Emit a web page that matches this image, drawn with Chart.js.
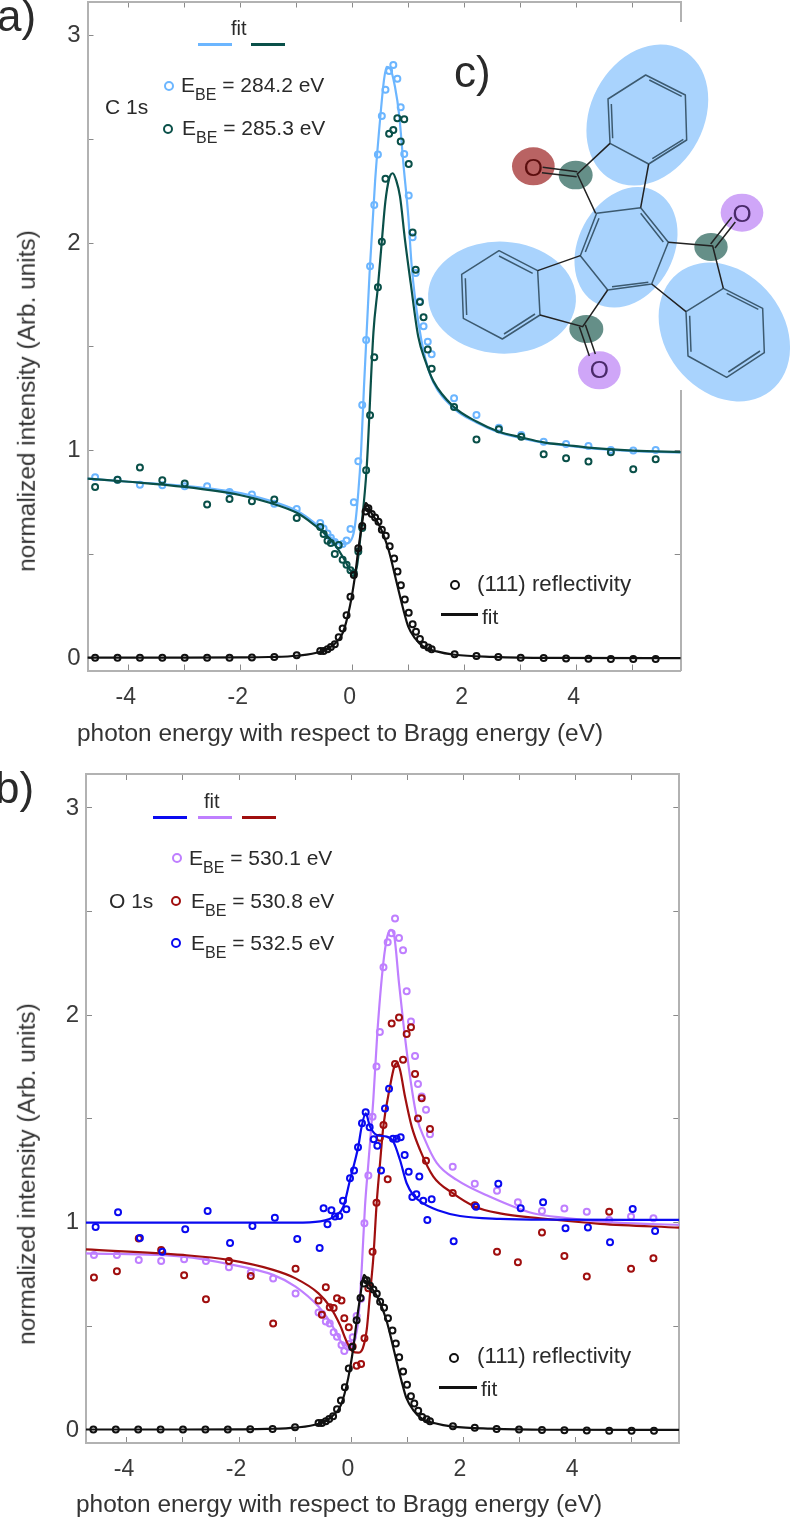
<!DOCTYPE html>
<html>
<head>
<meta charset="utf-8">
<title>Normalized intensity vs photon energy</title>
<script src="https://cdn.jsdelivr.net/npm/chart.js@4/dist/chart.umd.min.js"></script>
<style>
    html, body { margin: 0; padding: 0; background: #fff; }
    #page { position: relative; width: 792px; height: 1519px; overflow: hidden; font-family: "Liberation Sans", Arial, sans-serif; color: #2a2a2a; }
    #page canvas { position: absolute; left: 0; }
    .t { position: absolute; white-space: nowrap; line-height: 1; }
    .sub { font-size: 16px; position: relative; top: 8px; }
    .ax { position: absolute; white-space: nowrap; line-height: 1; font-size: 24.4px; color: #333; }
    .rot { transform: translate(-50%, -50%) rotate(-90deg); }
    .dash { position: absolute; height: 3px; }
    .dot { position: absolute; box-sizing: border-box; width: 10px; height: 10px; border-radius: 50%; border: 2.5px solid; }
    #inset { position: absolute; left: 400px; top: 30px; width: 392px; height: 400px; }
</style>
</head>
<body>
<div id="page">
    <canvas id="chartC" width="792" height="770" style="top:0;width:792px;height:770px"></canvas>
    <canvas id="chartO" width="792" height="759" style="top:760px;width:792px;height:759px"></canvas>

    <!-- c) molecule, its white box also hides the right axis line -->
    <svg style="position:absolute;left:674px;top:22px" width="118" height="368"><rect width="118" height="368" fill="#fff"/></svg>
    <svg id="inset" viewBox="0 0 1176 1200">
        <g fill="#a9d3fd">
            <ellipse cx="742" cy="255" rx="170" ry="222" transform="rotate(28 742 255)"/>
            <ellipse cx="678" cy="652" rx="143" ry="190" transform="rotate(28 678 652)"/>
            <ellipse cx="306" cy="803" rx="222" ry="168" transform="rotate(3 306 803)"/>
            <ellipse cx="973" cy="906" rx="178" ry="225" transform="rotate(-38 973 906)"/>
        </g>
        <g fill="#658f88">
            <ellipse cx="527" cy="435" rx="51" ry="43"/>
            <ellipse cx="933" cy="651" rx="50" ry="42"/>
            <ellipse cx="559" cy="897" rx="51" ry="42"/>
        </g>
        <ellipse cx="400" cy="409" rx="64" ry="57" fill="#b96363"/>
        <ellipse cx="1026" cy="548" rx="64" ry="57" fill="#cfa6f8"/>
        <ellipse cx="598" cy="1021" rx="64" ry="57" fill="#cfa6f8"/>
        <g fill="none" stroke="#3c5a70" stroke-width="4.5" stroke-linejoin="round">
            <polygon points="737,135 856,195 860,330 746,402 630,340 624,207"/>
            <polygon points="590,550 722,533 805,637 755,762 623,780 541,677"/>
            <polygon points="297,662 413,722 420,855 307,927 190,865 185,733"/>
            <polygon points="970,775 1088,835 1093,968 980,1042 864,978 858,845"/>
            <path d="M638,325 L634,222 M748,150 L845,199 M850,328 L757,386"/>
            <path d="M597,565 L556,666 M722,550 L790,636 M636,770 L745,757"/>
            <path d="M297,678 L398,730 M405,852 L312,912 M200,855 L196,745"/>
            <path d="M980,790 L1075,838 M1080,963 L985,1026 M873,965 L869,857"/>
        </g>
        <g fill="none" stroke="#222" stroke-width="4.5">
            <path d="M630,340 L532,432 L587,550 M746,402 L722,533"/>
            <path d="M805,637 L938,648 L970,775 M755,762 L858,845"/>
            <path d="M541,677 L413,722 M420,855 L548,890 L623,780"/>
            <path d="M532,425 L428,412 M530,440 L426,428"/>
            <path d="M932,642 L995,562 M945,654 L1006,576"/>
            <path d="M538,890 L568,978 M556,884 L586,972"/>
        </g>
        <g font-family="Liberation Sans, Arial, sans-serif" font-size="74" text-anchor="middle">
            <text x="400" y="437" fill="#5c0e0e">O</text>
            <text x="1026" y="576" fill="#4a2a6a">O</text>
            <text x="598" y="1045" fill="#4a2a6a">O</text>
        </g>
    </svg>

    <!-- panel letters -->
    <div class="t" style="left:-3px;top:-6px;font-size:44px">a)</div>
    <div class="t" style="left:-5px;top:766px;font-size:44px">b)</div>
    <div class="t" style="left:454px;top:50px;font-size:44px">c)</div>

    <!-- legend, panel a -->
    <div class="t" style="left:231px;top:18px;font-size:20px">fit</div>
    <div class="dash" style="left:198px;top:43px;width:34px;background:#6cb6ff"></div>
    <div class="dash" style="left:251px;top:43px;width:34px;background:#0a5049"></div>
    <div class="dot" style="left:164px;top:81px;border-color:#6cb6ff"></div>
    <div class="dot" style="left:163px;top:124px;border-color:#0a5049"></div>
    <div class="t" style="left:181px;top:74px;font-size:21px">E<span class="sub">BE</span> = 284.2 eV</div>
    <div class="t" style="left:182px;top:117px;font-size:21px">E<span class="sub">BE</span> = 285.3 eV</div>
    <div class="t" style="left:105px;top:96px;font-size:21px">C 1s</div>
    <div class="dot" style="left:450px;top:580px;border-color:#111"></div>
    <div class="t" style="left:477px;top:573px;font-size:22.3px">(111) reflectivity</div>
    <div class="dash" style="left:441px;top:613px;width:37px;background:#111"></div>
    <div class="t" style="left:482px;top:606px;font-size:21px">fit</div>

    <!-- legend, panel b -->
    <div class="t" style="left:204px;top:791px;font-size:20px">fit</div>
    <div class="dash" style="left:153px;top:816px;width:34px;background:#0a0af0"></div>
    <div class="dash" style="left:198px;top:816px;width:34px;background:#bf7fff"></div>
    <div class="dash" style="left:242px;top:816px;width:34px;background:#a00f0f"></div>
    <div class="dot" style="left:172px;top:853px;border-color:#bf7fff"></div>
    <div class="dot" style="left:171px;top:896px;border-color:#a00f0f"></div>
    <div class="dot" style="left:171px;top:938px;border-color:#0a0af0"></div>
    <div class="t" style="left:189px;top:847px;font-size:21px">E<span class="sub">BE</span> = 530.1 eV</div>
    <div class="t" style="left:191px;top:890px;font-size:21px">E<span class="sub">BE</span> = 530.8 eV</div>
    <div class="t" style="left:191px;top:932px;font-size:21px">E<span class="sub">BE</span> = 532.5 eV</div>
    <div class="t" style="left:109px;top:890px;font-size:21px">O 1s</div>
    <div class="dot" style="left:449px;top:1353px;border-color:#111"></div>
    <div class="t" style="left:477px;top:1345px;font-size:22.3px">(111) reflectivity</div>
    <div class="dash" style="left:439px;top:1386px;width:38px;background:#111"></div>
    <div class="t" style="left:481px;top:1378px;font-size:21px">fit</div>

    <!-- axis titles -->
    <div class="ax" style="left:77px;top:721px">photon energy with respect to Bragg energy (eV)</div>
    <div class="ax" style="left:76px;top:1492px">photon energy with respect to Bragg energy (eV)</div>
    <div class="ax rot" style="left:27px;top:401px">normalized intensity (Arb. units)</div>
    <div class="ax rot" style="left:27px;top:1174px">normalized intensity (Arb. units)</div>
</div>

<script>
// Axis ticks, shared by both panels
const xTicks = [-4, -3, -2, -1, 0, 1, 2, 3, 4, 5];
const xLabelled = [-4, -2, 0, 2, 4];
const yTicks = [0, 0.5, 1, 1.5, 2, 2.5, 3];
const yLabelled = [0, 1, 2, 3];

// (111) reflectivity, same scan in both panels
const reflE = [-4.6, -4.2, -3.8, -3.4, -3.0, -2.6, -2.2, -1.8, -1.4, -1.0,
    -0.58, -0.52, -0.45, -0.39, -0.32, -0.25, -0.18, -0.11, -0.04, 0.02, 0.10, 0.17, 0.23, 0.28, 0.34, 0.40,
    0.46, 0.52, 0.59, 0.66, 0.74, 0.80, 0.86, 0.93, 1.0, 1.07, 1.13, 1.2, 1.27, 1.35, 1.41,
    1.82, 2.21, 2.6, 3.0, 3.41, 3.81, 4.21, 4.61, 5.01, 5.41];
const reflI = [0.002, 0.002, 0.002, 0.002, 0.002, 0.002, 0.002, 0.003, 0.005, 0.013,
    0.034, 0.034, 0.042, 0.053, 0.066, 0.10, 0.142, 0.206, 0.296, 0.40, 0.529, 0.637, 0.706, 0.722, 0.695, 0.678,
    0.657, 0.618, 0.589, 0.539, 0.48, 0.417, 0.351, 0.282, 0.218, 0.163, 0.127, 0.092, 0.063, 0.051, 0.042,
    0.018, 0.010, 0.005, 0.002, 0, -0.002, -0.003, -0.004, -0.004, -0.004];
const reflFitE = [-4.74, -3, -2, -1.5, -1, -0.58, -0.345, -0.18, -0.05, 0.04, 0.10, 0.16, 0.232, 0.34, 0.49, 0.64, 0.73, 0.815, 0.905, 0.99, 1.11, 1.26, 1.5, 1.82, 2.5, 3.5, 5.86];
const reflFitI = [0.002, 0.002, 0.003, 0.005, 0.011, 0.03, 0.064, 0.12, 0.25, 0.394, 0.522, 0.635, 0.748, 0.696, 0.632, 0.522, 0.426, 0.33, 0.233, 0.153, 0.096, 0.056, 0.032, 0.016, 0.006, 0.001, 0];

// C 1s, shared energy scan
const scanC = [-4.6, -4.2, -3.8, -3.4, -3.0, -2.6, -2.2, -1.8, -1.4, -1.0,
    -0.58, -0.52, -0.45, -0.39, -0.32, -0.25, -0.18, -0.11, -0.04, 0.02, 0.10, 0.17,
    0.24, 0.31, 0.385, 0.45, 0.52, 0.585, 0.65, 0.725, 0.797, 0.857, 0.92, 1.0, 1.07, 1.125, 1.2, 1.265, 1.34, 1.41,
    1.81, 2.21, 2.61, 3.01, 3.41, 3.81, 4.21, 4.61, 5.01, 5.41];
const c284 = [0.871, 0.86, 0.836, 0.833, 0.828, 0.828, 0.80, 0.788, 0.744, 0.719,
    0.651, 0.625, 0.60, 0.58, 0.56, 0.542, 0.55, 0.567, 0.622, 0.751, 0.949, 1.22,
    1.533, 1.889, 2.184, 2.428, 2.613, 2.74, 2.83, 2.859, 2.793, 2.655, 2.43, 2.23, 2.028, 1.856, 1.72, 1.60, 1.525, 1.464,
    1.252, 1.172, 1.11, 1.075, 1.043, 1.032, 1.022, 1.003, 1.0, 1.003];
const c285 = [0.825, 0.86, 0.918, 0.857, 0.841, 0.74, 0.767, 0.756, 0.764, 0.675,
    0.632, 0.598, 0.566, 0.555, 0.502, 0.545, 0.474, 0.45, 0.423, 0.41, 0.514, 0.627,
    0.905, 1.17, 1.45, 1.787, 2.007, 2.311, 2.528, 2.546, 2.602, 2.49, 2.597, 2.382, 2.052, 1.872, 1.716, 1.643, 1.488, 1.395,
    1.21, 1.054, 1.103, 1.067, 0.982, 0.963, 0.947, 0.992, 0.91, 0.958];
const c284FitE = [-4.74, -4, -3, -2, -1.5, -1, -0.7, -0.5, -0.3, -0.15, -0.05, 0.03, 0.1, 0.15, 0.2, 0.3, 0.4, 0.5, 0.56, 0.607, 0.666, 0.754, 0.832, 0.904, 0.993, 1.054, 1.171, 1.3, 1.44, 1.8, 2.21, 2.61, 3.01, 3.41, 3.81, 4.21, 5.01, 5.86];
const c284Fit = [0.865, 0.85, 0.83, 0.795, 0.76, 0.71, 0.655, 0.605, 0.565, 0.55, 0.56, 0.62, 0.80, 1.0, 1.3, 1.85, 2.3, 2.63, 2.79, 2.85, 2.843, 2.755, 2.613, 2.386, 2.128, 1.887, 1.62, 1.44, 1.33, 1.205, 1.135, 1.088, 1.06, 1.038, 1.025, 1.012, 0.998, 0.991];
const c285FitE = [-4.74, -4, -3, -2, -1.5, -1, -0.7, -0.5, -0.3, -0.15, -0.05, 0.03, 0.08, 0.15, 0.25, 0.37, 0.45, 0.52, 0.583, 0.65, 0.714, 0.78, 0.845, 0.934, 1.036, 1.17, 1.3, 1.44, 1.8, 2.21, 2.61, 3.01, 3.41, 3.81, 4.21, 5.01, 5.86];
const c285Fit = [0.865, 0.85, 0.825, 0.785, 0.75, 0.70, 0.645, 0.60, 0.54, 0.475, 0.425, 0.405, 0.45, 0.62, 0.92, 1.57, 1.79, 2.01, 2.2, 2.31, 2.337, 2.3, 2.224, 2.015, 1.806, 1.55, 1.43, 1.335, 1.212, 1.14, 1.091, 1.064, 1.04, 1.027, 1.014, 1.0, 0.993];

// O 1s, 530.1 and 530.8 eV share a scan, 532.5 eV sits a little to the right
const scanO = [-4.59, -4.18, -3.79, -3.39, -2.98, -2.59, -2.18, -1.79, -1.39, -0.99,
    -0.58, -0.52, -0.45, -0.38, -0.31, -0.25, -0.17, -0.12, -0.04, 0.03, 0.10, 0.18,
    0.24, 0.31, 0.385, 0.455, 0.515, 0.58, 0.655, 0.726, 0.786, 0.857, 0.929, 0.994, 1.071, 1.143, 1.196, 1.262, 1.339, 1.41,
    1.816, 2.21, 2.607, 2.98, 3.41, 3.81, 4.21, 4.61, 5.0, 5.4];
const o530p1 = [0.844, 0.844, 0.82, 0.815, 0.823, 0.815, 0.785, 0.759, 0.73, 0.658,
    0.566, 0.56, 0.523, 0.514, 0.471, 0.45, 0.41, 0.381, 0.415, 0.447, 0.55, 0.633,
    0.997, 1.227, 1.511, 1.753, 1.92, 2.232, 2.352, 2.396, 2.467, 2.373, 2.314, 2.116, 1.97, 1.804, 1.669, 1.608, 1.545, 1.426,
    1.269, 1.187, 1.154, 1.098, 1.056, 1.068, 1.052, 1.013, 1.029, 1.021];
const o530p8 = [0.735, 0.765, 0.923, 0.868, 0.746, 0.63, 0.815, 0.743, 0.514, 0.777,
    0.624, 0.556, 0.688, 0.592, 0.588, 0.635, 0.624, 0.539, 0.495, 0.402, 0.31, 0.318,
    0.442, 0.683, 0.859, 1.096, 1.41, 1.471, 1.209, 1.961, 1.765, 1.989, 1.786, 1.91, 1.942, 1.717, 1.502, 1.60, 1.298, 1.452,
    1.143, 1.084, 0.859, 0.809, 0.952, 0.839, 0.74, 1.052, 0.777, 0.828];
const scanOBlue = [-4.56, -4.16, -3.77, -3.37, -2.96, -2.56, -2.16, -1.76, -1.36, -0.96,
    -0.56, -0.49, -0.42, -0.35, -0.286, -0.21, -0.143, -0.083, -0.018, 0.054, 0.125, 0.196,
    0.262, 0.333, 0.405, 0.47, 0.536, 0.607, 0.679, 0.75, 0.815, 0.887, 0.958, 1.03, 1.095, 1.167, 1.22, 1.29, 1.363, 1.44,
    1.833, 2.232, 2.63, 3.03, 3.43, 3.83, 4.23, 4.625, 5.03, 5.43];
const o532p5 = [0.979, 1.05, 0.926, 0.859, 0.968, 1.056, 0.902, 0.984, 1.024, 0.921,
    0.878, 1.069, 0.992, 1.06, 1.029, 1.032, 1.106, 1.064, 1.214, 1.252, 1.363, 1.479,
    1.532, 1.46, 1.402, 1.371, 1.251, 1.551, 1.646, 1.404, 1.404, 1.412, 1.326, 1.246, 1.124, 1.137, 1.223, 1.106, 1.013, 1.113,
    0.91, 1.077, 1.187, 1.069, 1.098, 0.973, 0.976, 0.905, 1.066, 0.96];
const o532p5FitE = [-4.74, -3, -1.5, -1, -0.55, -0.256, -0.137, -0.018, 0.13, 0.19, 0.262, 0.34, 0.458, 0.637, 0.756, 0.875, 0.994, 1.113, 1.29, 1.55, 1.946, 2.66, 3.5, 5.86];
const o532p5Fit = [1.0, 1.0, 1.0, 1.0, 1.006, 1.037, 1.077, 1.206, 1.367, 1.463, 1.527, 1.463, 1.423, 1.415, 1.39, 1.302, 1.19, 1.133, 1.093, 1.06, 1.032, 1.018, 1.014, 1.013];
const o530p1FitE = [-4.74, -3, -2.18, -1.39, -0.99, -0.58, -0.375, -0.196, -0.107, -0.03, 0.04, 0.13, 0.19, 0.25, 0.31, 0.398, 0.47, 0.577, 0.649, 0.708, 0.773, 0.857, 0.934, 1.054, 1.173, 1.321, 1.53, 1.888, 2.482, 3.25, 3.85, 4.74, 5.86];
const o530p1Fit = [0.852, 0.836, 0.80, 0.748, 0.691, 0.595, 0.522, 0.434, 0.394, 0.386, 0.418, 0.53, 0.772, 1.08, 1.286, 1.592, 1.915, 2.253, 2.38, 2.412, 2.38, 2.155, 1.963, 1.704, 1.511, 1.399, 1.288, 1.206, 1.125, 1.045, 1.022, 1.0, 0.989];
const o530p8FitE = [-4.74, -3, -2.18, -1.39, -0.99, -0.58, -0.375, -0.196, -0.077, 0.03, 0.13, 0.21, 0.28, 0.34, 0.4, 0.458, 0.518, 0.577, 0.696, 0.773, 0.821, 0.875, 0.964, 1.084, 1.232, 1.47, 1.816, 2.214, 2.66, 3.375, 4.45, 5.86];
const o530p8Fit = [0.871, 0.844, 0.82, 0.772, 0.731, 0.659, 0.595, 0.506, 0.426, 0.378, 0.373, 0.394, 0.482, 0.659, 0.836, 1.093, 1.286, 1.463, 1.656, 1.752, 1.769, 1.737, 1.608, 1.463, 1.351, 1.222, 1.142, 1.077, 1.045, 1.021, 0.994, 0.976];

const BLACK = '#111111';
const SKY = '#6cb6ff';
const TEAL = '#0a5049';
const VIOLET = '#bf7fff';
const DARKRED = '#a00f0f';
const BLUE = '#0a0af0';
const AXIS_GREY = '#b2b2b2';

function zip(xs, ys) {
    return xs.map((x, i) => ({ x: x, y: ys[i] }));
}

function fitSet(xs, ys, color) {
    return {
        data: zip(xs, ys),
        showLine: true,
        borderColor: color,
        borderWidth: 2.2,
        pointRadius: 0,
        cubicInterpolationMode: 'monotone'
    };
}

function dotSet(xs, ys, color) {
    return {
        data: zip(xs, ys),
        showLine: false,
        borderColor: color,
        backgroundColor: 'rgba(0,0,0,0)',
        pointRadius: 3,
        pointBorderWidth: 2
    };
}

// scale sizes are forced and label padding dropped, so the plot box lands where the reference has it
function pinScale(s, size) {
    if (s.isHorizontal()) s.height = size; else s.width = size;
    s.paddingLeft = s.paddingRight = s.paddingTop = s.paddingBottom = 0;
}

function axisOptions(box, range) {
    const edge = { color: AXIS_GREY, width: 2 };
    const gridX = { drawOnChartArea: false, tickLength: -6, color: '#8a8a8a', lineWidth: 1 };
    const common = {
        type: 'linear',
        border: edge,
        grid: gridX
    };
    return {
        x: Object.assign({}, common, {
            position: 'bottom',
            min: range.xMin,
            max: range.xMax,
            afterBuildTicks: s => { s.ticks = xTicks.map(v => ({ value: v })); },
            afterFit: s => pinScale(s, box.bottom),
            ticks: {
                autoSkip: false,
                maxRotation: 0,
                padding: 19,
                labelOffset: -3,
                color: '#3a3a3a',
                font: { family: "'Liberation Sans', Arial, sans-serif", size: 23 },
                callback: v => xLabelled.includes(v) ? String(v) : ''
            }
        }),
        x2: Object.assign({}, common, {
            position: 'top',
            min: range.xMin,
            max: range.xMax,
            afterBuildTicks: s => { s.ticks = xTicks.map(v => ({ value: v })); },
            afterFit: s => pinScale(s, box.top),
            ticks: { display: false }
        }),
        y: Object.assign({}, common, {
            position: 'left',
            min: range.yMin,
            max: range.yMax,
            afterBuildTicks: s => { s.ticks = yTicks.map(v => ({ value: v })); },
            afterFit: s => pinScale(s, box.left),
            ticks: {
                autoSkip: false,
                padding: 13,
                color: '#3a3a3a',
                font: { family: "'Liberation Sans', Arial, sans-serif", size: 24 },
                callback: v => yLabelled.includes(v) ? String(v) : ''
            }
        }),
        y2: Object.assign({}, common, {
            position: 'right',
            min: range.yMin,
            max: range.yMax,
            afterBuildTicks: s => { s.ticks = yTicks.map(v => ({ value: v })); },
            afterFit: s => pinScale(s, box.right),
            ticks: { display: false }
        })
    };
}

function drawPanel(id, datasets, box, range) {
    new Chart(document.getElementById(id), {
        type: 'scatter',
        data: { datasets: datasets },
        options: {
            responsive: false,
            animation: false,
            layout: { padding: 0, autoPadding: false },
            plugins: { legend: { display: false }, tooltip: { enabled: false } },
            scales: axisOptions(box, range)
        }
    });
}

drawPanel('chartC', [
    fitSet(reflFitE, reflFitI, BLACK),
    dotSet(reflE, reflI, BLACK),
    fitSet(c285FitE, c285Fit, TEAL),
    dotSet(scanC, c285, TEAL),
    fitSet(c284FitE, c284Fit, SKY),
    dotSet(scanC, c284, SKY)
], { left: 87.5, right: 111.3, top: 1.5, bottom: 99.5 },
   { xMin: -4.736, xMax: 5.857, yMin: -0.06, yMax: 3.165 });

drawPanel('chartO', [
    fitSet(reflFitE, reflFitI, BLACK),
    dotSet(reflE, reflI, BLACK),
    fitSet(o532p5FitE, o532p5Fit, BLUE),
    dotSet(scanOBlue, o532p5, BLUE),
    fitSet(o530p8FitE, o530p8Fit, DARKRED),
    dotSet(scanO, o530p8, DARKRED),
    fitSet(o530p1FitE, o530p1Fit, VIOLET),
    dotSet(scanO, o530p1, VIOLET)
], { left: 86, right: 112.7, top: 14, bottom: 76 },
   { xMin: -4.732, xMax: 5.862, yMin: -0.063, yMax: 3.164 });
</script>
</body>
</html>
